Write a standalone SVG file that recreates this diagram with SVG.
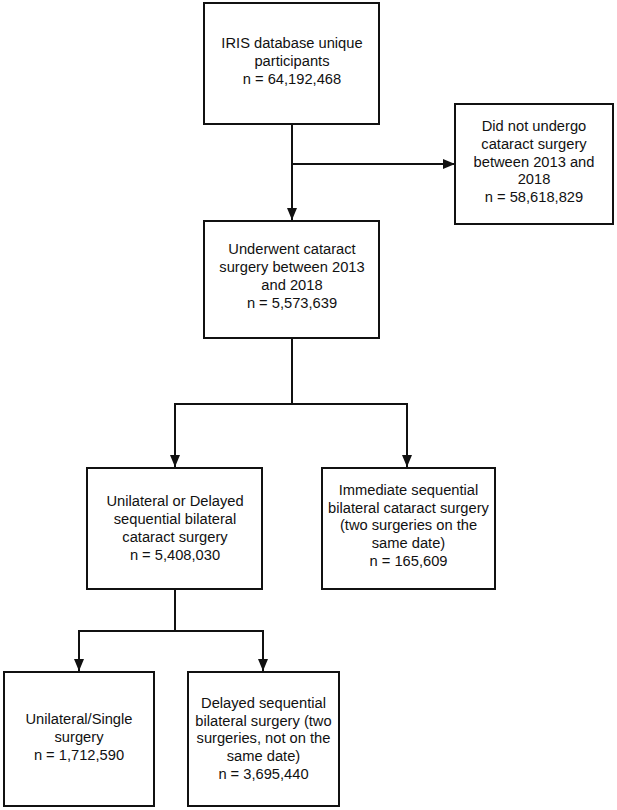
<svg xmlns="http://www.w3.org/2000/svg" width="617" height="810" viewBox="0 0 617 810">
<defs>
<style>
.box{fill:#fff;stroke:#111;stroke-width:2}
.ln{fill:none;stroke:#111;stroke-width:2}
text{font-family:"Liberation Sans",Arial,sans-serif;font-size:14.7px;fill:#111;text-anchor:middle}
</style>
<marker id="ah" markerWidth="12" markerHeight="12" viewBox="0 0 12 12" refX="12" refY="6" orient="auto" markerUnits="userSpaceOnUse">
<path d="M0,1 L12,6 L0,11 Z" fill="#111"/>
</marker>
</defs>
<rect width="617" height="810" fill="#fff"/>
<g id="connectors">
<path class="ln" d="M292,124 V220" marker-end="url(#ah)"/>
<path class="ln" d="M292,164 H455" marker-end="url(#ah)"/>
<path class="ln" d="M292,338 V404"/>
<path class="ln" d="M175,404 H407"/>
<path class="ln" d="M175,403 V467" marker-end="url(#ah)"/>
<path class="ln" d="M407,403 V467" marker-end="url(#ah)"/>
<path class="ln" d="M175,589 V631"/>
<path class="ln" d="M79,631 H263"/>
<path class="ln" d="M79,630 V671" marker-end="url(#ah)"/>
<path class="ln" d="M263,630 V671" marker-end="url(#ah)"/>
</g>
<g id="n1">
<rect class="box" x="204" y="3" width="175" height="121"/>
<text x="292" y="48">IRIS database unique</text>
<text x="292" y="66">participants</text>
<text x="292" y="84">n = 64,192,468</text>
</g>
<g id="n2">
<rect class="box" x="455" y="104" width="158" height="120"/>
<text x="534" y="131">Did not undergo</text>
<text x="534" y="149">cataract surgery</text>
<text x="534" y="167">between 2013 and</text>
<text x="534" y="184">2018</text>
<text x="534" y="202">n = 58,618,829</text>
</g>
<g id="n3">
<rect class="box" x="204" y="221" width="175" height="117"/>
<text x="292" y="254">Underwent cataract</text>
<text x="292" y="272">surgery between 2013</text>
<text x="292" y="289.5">and 2018</text>
<text x="292" y="307.5">n = 5,573,639</text>
</g>
<g id="n4">
<rect class="box" x="87" y="468" width="175" height="121"/>
<text x="175" y="506">Unilateral or Delayed</text>
<text x="175" y="524">sequential bilateral</text>
<text x="175" y="542">cataract surgery</text>
<text x="175" y="560">n = 5,408,030</text>
</g>
<g id="n5">
<rect class="box" x="322" y="468" width="173" height="121"/>
<text x="408.5" y="495">Immediate sequential</text>
<text x="408.5" y="513">bilateral cataract surgery</text>
<text x="408.5" y="530">(two surgeries on the</text>
<text x="408.5" y="548">same date)</text>
<text x="408.5" y="566">n = 165,609</text>
</g>
<g id="n6">
<rect class="box" x="4" y="672" width="150" height="134"/>
<text x="79" y="724">Unilateral/Single</text>
<text x="79" y="742">surgery</text>
<text x="79" y="760">n = 1,712,590</text>
</g>
<g id="n7">
<rect class="box" x="188" y="672" width="151" height="134"/>
<text x="263.5" y="708">Delayed sequential</text>
<text x="263.5" y="726">bilateral surgery (two</text>
<text x="263.5" y="743">surgeries, not on the</text>
<text x="263.5" y="761">same date)</text>
<text x="263.5" y="779">n = 3,695,440</text>
</g>
</svg>
